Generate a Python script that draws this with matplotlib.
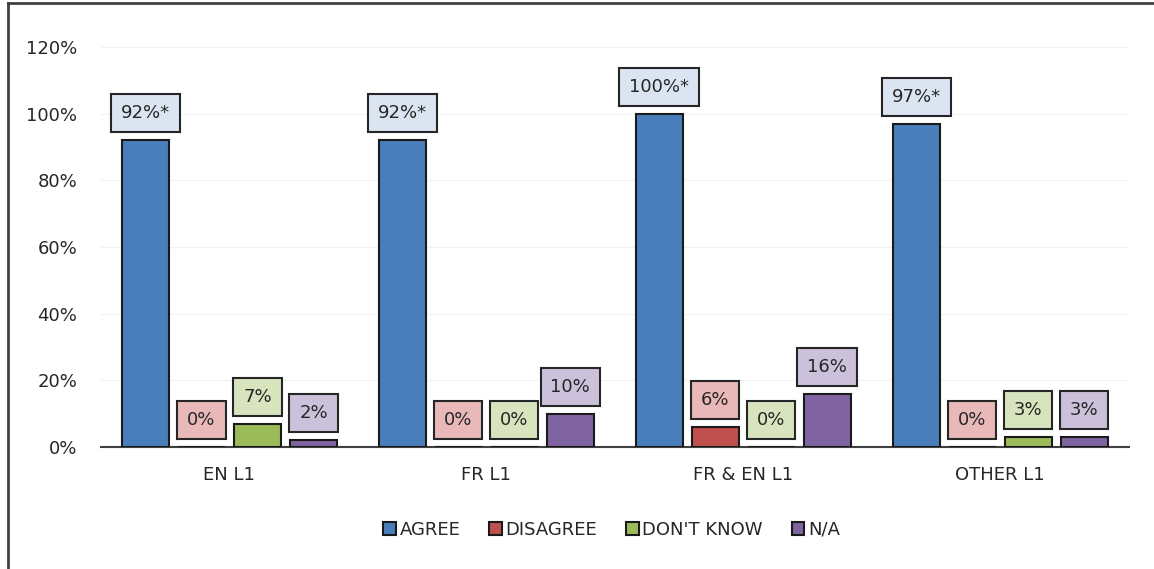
import matplotlib
matplotlib.use("Agg")
import matplotlib.pyplot as plt
from matplotlib.lines import Line2D
import numpy as np

grupos = ["EN L1", "FR L1", "FR & EN L1", "OTHER L1"]
series = ["AGREE", "DISAGREE", "DON'T KNOW", "N/A"]
agree = [92, 92, 100, 97]
disagree = [0, 0, 6, 0]
dont_know = [7, 0, 0, 3]
na = [2, 10, 16, 3]
# el asterisco de significancia solo va en AGREE
marca = ["*", "*", "*", "*"]

colores = ["#4a7ebb", "#c0504d", "#9bbb59", "#8064a2"]
fondos = ["#dbe5f1", "#e8b9b8", "#d7e4bd", "#ccc1da"]

plt.rcParams["font.family"] = "DejaVu Sans"
fig = plt.figure(figsize=(11.54, 5.69), dpi=100)
ax = fig.add_axes([0.0875, 0.2144, 0.8905, 0.703])

x = np.arange(len(grupos))
paso, ancho = 0.218, 0.183
valores = [agree, disagree, dont_know, na]
for i, (nom, vals) in enumerate(zip(series, valores)):
    pos = x + (i - 1.5) * paso
    ax.bar(pos, [v / 100 for v in vals], ancho, color=colores[i],
           edgecolor="#1a1a1a", lw=1.5, label=nom, zorder=3)
    for j, (p, v) in enumerate(zip(pos, vals)):
        txt = f"{v}%" + (marca[j] if i == 0 else "")
        ax.annotate(txt, (p, v / 100), xytext=(0, 13), textcoords="offset points",
                    ha="center", va="bottom", fontsize=13, color="#262626",
                    bbox=dict(boxstyle="square,pad=0.55", fc=fondos[i],
                              ec="#262626", lw=1.5), zorder=4)

ax.set_xlim(-0.5, 3.5)
ax.set_ylim(0, 1.2)
ax.set_yticks(np.arange(0, 1.21, 0.2))
ax.set_yticklabels([f"{int(round(t * 100))}%" for t in np.arange(0, 1.21, 0.2)])
ax.set_xticks(x)
ax.set_xticklabels(grupos)
ax.tick_params(length=0, labelsize=13, colors="#262626")
ax.tick_params(axis="y", pad=17)
ax.tick_params(axis="x", pad=14)
for s in ["top", "right", "left"]:
    ax.spines[s].set_visible(False)
ax.spines["bottom"].set_color("#404040")
ax.spines["bottom"].set_linewidth(1.5)
ax.grid(axis="y", color="#f2f2f2", lw=0.8, zorder=0)

fig.legend(loc="lower center", bbox_to_anchor=(0.53, 0.025), ncol=4,
           frameon=False, fontsize=13, handlelength=0.7, handleheight=0.7,
           handletextpad=0.2, columnspacing=1.6, labelcolor="#262626")

# marco de la figura (solo se ve arriba y a la izquierda)
fig.add_artist(Line2D([0.0065, 1.0], [0.994, 0.994], color="#404040", lw=2))
fig.add_artist(Line2D([0.0065, 0.0065], [0.0, 0.994], color="#404040", lw=2))

fig.savefig("out.png", dpi=100)
